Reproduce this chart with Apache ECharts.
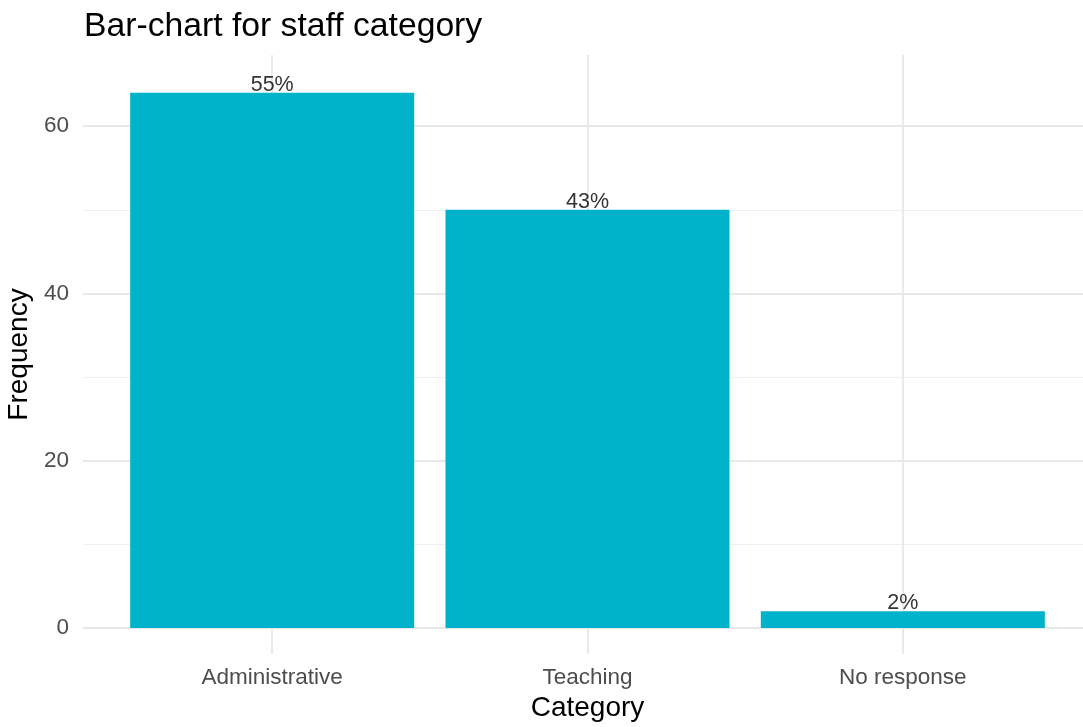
<!DOCTYPE html>
<html>
<head>
<meta charset="utf-8">
<script src="https://cdn.jsdelivr.net/npm/echarts@6/dist/echarts.min.js"></script>
<style>
html,body{margin:0;padding:0;background:#fff;}
#chart{width:1083px;height:727px;}
</style>
</head>
<body>
<div id="chart"></div>
<script>
// ---- data ----
const categories = ['Administrative', 'Teaching', 'No response'];
const frequencies = [64, 50, 2];
const percentLabels = ['55%', '43%', '2%'];
const yMajorTicks = [0, 20, 40, 60];
const yMinorTicks = [10, 30, 50];

const FONT = '"Liberation Sans", Arial, Helvetica, sans-serif';
const positions = categories.map((c, i) => i + 1);
const barData = frequencies.map((v, i) => [positions[i], v]);

const chart = echarts.init(document.getElementById('chart'), null, {renderer: 'canvas'});
chart.setOption({
  animation: false,
  backgroundColor: '#ffffff',
  textStyle: {fontFamily: FONT},
  title: {
    text: 'Bar-chart for staff category',
    left: 79,
    top: 5,
    textStyle: {fontSize: 33.7, fontWeight: 'normal', color: '#000000', fontFamily: FONT}
  },
  grid: {
    left: 83, top: 55, width: 1009, bottom: 73,
    containLabel: false, outerBoundsMode: 'none'
  },
  xAxis: {
    type: 'value',
    min: 0.4, max: 3.6, interval: 0.2,
    axisLine: {show: false},
    axisTick: {show: false},
    splitLine: {show: false},
    axisLabel: {
      margin: 12,
      fontSize: 22.5,
      color: '#4D4D4D',
      fontFamily: FONT,
      formatter: function (v) {
        const r = Math.round(v);
        if (Math.abs(v - r) < 1e-6 && r >= 1 && r <= categories.length) return categories[r - 1];
        return '';
      }
    },
    name: 'Category',
    nameLocation: 'middle',
    nameGap: 40,
    nameTextStyle: {fontSize: 28, color: '#000000', fontFamily: FONT}
  },
  yAxis: {
    type: 'value',
    min: -3.1, max: 68.5,
    axisLine: {show: false},
    axisTick: {show: false},
    splitLine: {show: false},
    axisLabel: {
      margin: 14,
      fontSize: 22.5,
      color: '#4D4D4D',
      fontFamily: FONT,
      formatter: function (v) {
        const r = Math.round(v);
        if (Math.abs(v - r) < 1e-6 && yMajorTicks.indexOf(r) >= 0) return String(r);
        return '';
      }
    },
    name: 'Frequency',
    nameLocation: 'middle',
    nameGap: 43,
    nameTextStyle: {fontSize: 28, color: '#000000', fontFamily: FONT}
  },
  series: [
    {
      // background grid lines (ggplot-like panel grid)
      type: 'line',
      data: [],
      z: 0,
      silent: true,
      markLine: {
        z: 0,
        silent: true,
        symbol: 'none',
        label: {show: false},
        animation: false,
        data: []
          .concat(yMinorTicks.map(v => ({yAxis: v, lineStyle: {color: '#F0F0F0', width: 1, type: 'solid'}})))
          .concat(yMajorTicks.map(v => ({yAxis: v, lineStyle: {color: '#E8E8E8', width: 1.8, type: 'solid'}})))
          .concat(positions.map(v => ({xAxis: v, lineStyle: {color: '#E8E8E8', width: 1.8, type: 'solid'}})))
      }
    },
    {
      type: 'bar',
      data: barData,
      z: 10,
      barWidth: 284,
      itemStyle: {color: '#00B2CA'},
      label: {
        show: true,
        position: 'top',
        distance: -3,
        fontSize: 21.5,
        color: '#333333',
        fontFamily: FONT,
        formatter: function (p) { return percentLabels[p.dataIndex]; }
      }
    }
  ]
});
</script>
</body>
</html>
